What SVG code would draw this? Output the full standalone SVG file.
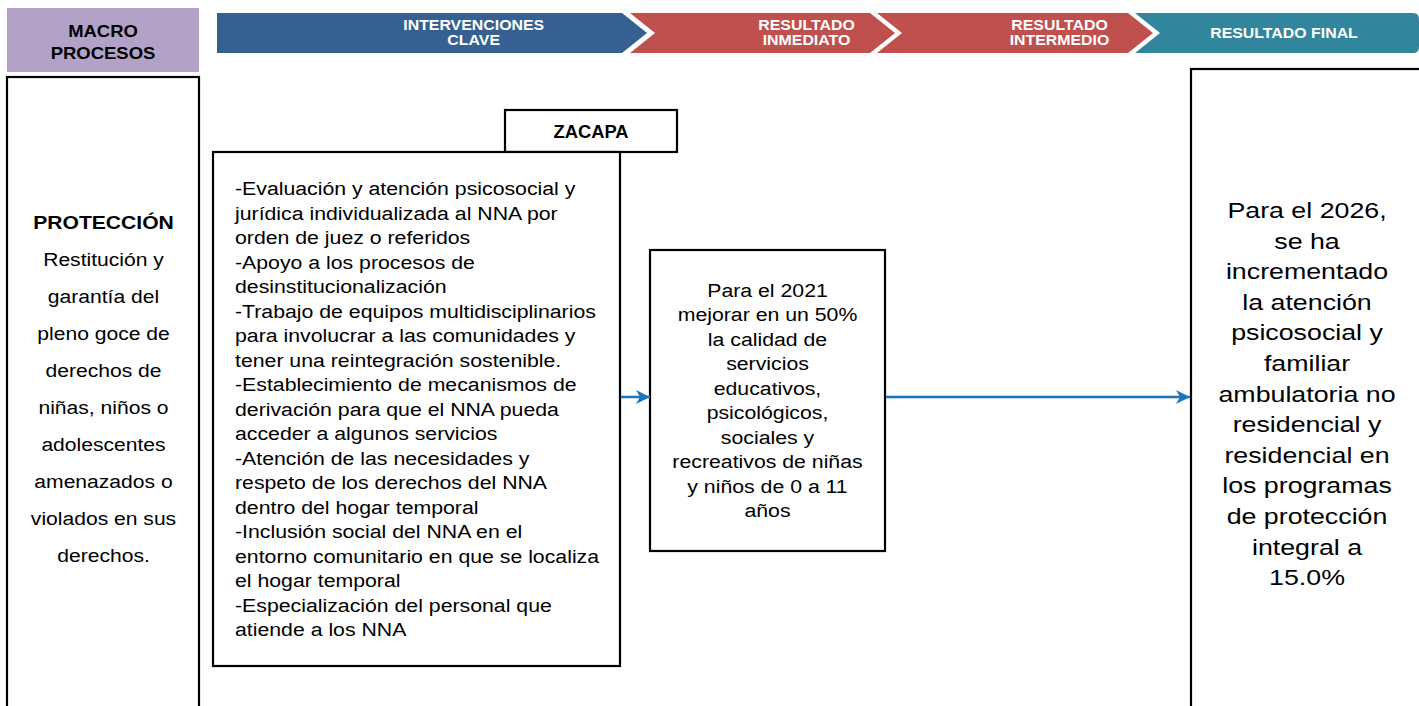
<svg xmlns="http://www.w3.org/2000/svg" width="1419" height="706" viewBox="0 0 1419 706">
<style>
.box{fill:#fff;stroke:#000;stroke-width:2.2}
.hb{font-family:"Liberation Sans",Arial,sans-serif;font-weight:bold;fill:#fff;font-size:15px;text-anchor:middle}
.t{font-family:"Liberation Sans",Arial,sans-serif;fill:#000}
.b{font-weight:bold}
.c{text-anchor:middle}
.conn{stroke:#1B75BC;stroke-width:2.5;fill:none}
</style>
<defs>
<marker id="arr" markerUnits="userSpaceOnUse" markerWidth="16" markerHeight="16" refX="14" refY="7" orient="auto">
<path d="M0,0 L14,7 L0,14 L4,7 Z" fill="#1B75BC"/>
</marker>
</defs>
<rect width="1419" height="706" fill="#fff"/>

<g id="banner">
<polygon points="217,13 622,13 647,33 622,53 217,53" fill="#376092"/>
<polygon points="630,13 870,13 895,33 870,53 630,53 655,33" fill="#C0504D"/>
<polygon points="877,13 1128,13 1153,33 1128,53 877,53 902,33" fill="#C0504D"/>
<path d="M1135,13 L1413,13 Q1419,13 1419,19 L1419,47 Q1419,53 1413,53 L1135,53 L1160,33 Z" fill="#31859C"/>
<g transform="translate(473.7,0) scale(1.06,1)"><text class="hb" x="0" y="30.5">INTERVENCIONES</text><text class="hb" x="0" y="45.5">CLAVE</text></g>
<g transform="translate(806.5,0) scale(1.06,1)"><text class="hb" x="0" y="30.5">RESULTADO</text><text class="hb" x="0" y="45.5">INMEDIATO</text></g>
<g transform="translate(1059.5,0) scale(1.06,1)"><text class="hb" x="0" y="30.5">RESULTADO</text><text class="hb" x="0" y="45.5">INTERMEDIO</text></g>
<g transform="translate(1284,0) scale(1.06,1)"><text class="hb" x="0" y="38">RESULTADO FINAL</text></g>
</g>

<g id="macro-header">
<rect x="7" y="8" width="192" height="64" fill="#B3A2C7"/>
<g transform="translate(103,0) scale(1.12,1)" class="t b c" font-size="16.5">
<text x="0" y="37.5">MACRO</text>
<text x="0" y="59">PROCESOS</text>
</g>
</g>

<g id="proteccion">
<rect class="box" x="7" y="77" width="192" height="640"/>
<g transform="translate(103.5,0) scale(1.11,1)" class="t c" font-size="19">
<text x="0" y="229" class="b">PROTECCIÓN</text>
<text x="0" y="266">Restitución y</text>
<text x="0" y="303">garantía del</text>
<text x="0" y="340">pleno goce de</text>
<text x="0" y="377">derechos de</text>
<text x="0" y="414">niñas, niños o</text>
<text x="0" y="451">adolescentes</text>
<text x="0" y="488">amenazados o</text>
<text x="0" y="525">violados en sus</text>
<text x="0" y="562">derechos.</text>
</g>
</g>

<g id="zacapa">
<rect class="box" x="505" y="110" width="172" height="42"/>
<text x="591" y="138" class="t b c" font-size="17.5" transform="translate(591,0) scale(1.05,1) translate(-591,0)">ZACAPA</text>
</g>

<g id="intervenciones">
<rect class="box" x="213" y="152" width="407" height="514"/>
<g transform="translate(235,0) scale(1.12,1)" class="t" font-size="19">
<text x="0" y="195.5">-Evaluación y atención psicosocial y</text>
<text x="0" y="220">jurídica individualizada al NNA por</text>
<text x="0" y="244.5">orden de juez o referidos</text>
<text x="0" y="269">-Apoyo a los procesos de</text>
<text x="0" y="293.5">desinstitucionalización</text>
<text x="0" y="318">-Trabajo de equipos multidisciplinarios</text>
<text x="0" y="342.5">para involucrar a las comunidades y</text>
<text x="0" y="367">tener una reintegración sostenible.</text>
<text x="0" y="391.5">-Establecimiento de mecanismos de</text>
<text x="0" y="416">derivación para que el NNA pueda</text>
<text x="0" y="440.5">acceder a algunos servicios</text>
<text x="0" y="465">-Atención de las necesidades y</text>
<text x="0" y="489.5">respeto de los derechos del NNA</text>
<text x="0" y="514">dentro del hogar temporal</text>
<text x="0" y="538.5">-Inclusión social del NNA en el</text>
<text x="0" y="563">entorno comunitario en que se localiza</text>
<text x="0" y="587.5">el hogar temporal</text>
<text x="0" y="612">-Especialización del personal que</text>
<text x="0" y="636.5">atiende a los NNA</text>
</g>
</g>

<g id="resultado-inmediato">
<rect class="box" x="650" y="250" width="235" height="301"/>
<g transform="translate(767.5,0) scale(1.12,1)" class="t c" font-size="19">
<text x="0" y="297">Para el 2021</text>
<text x="0" y="321.5">mejorar en un 50%</text>
<text x="0" y="346">la calidad de</text>
<text x="0" y="370.5">servicios</text>
<text x="0" y="395">educativos,</text>
<text x="0" y="419.5">psicológicos,</text>
<text x="0" y="444">sociales y</text>
<text x="0" y="468.5">recreativos de niñas</text>
<text x="0" y="493">y niños de 0 a 11</text>
<text x="0" y="517.5">años</text>
</g>
</g>

<g id="resultado-final">
<rect class="box" x="1191" y="69" width="240" height="650"/>
<g transform="translate(1307,0) scale(1.19,1)" class="t c" font-size="22.5">
<text x="0" y="218">Para el 2026,</text>
<text x="0" y="248.6">se ha</text>
<text x="0" y="279.2">incrementado</text>
<text x="0" y="309.8">la atención</text>
<text x="0" y="340.4">psicosocial y</text>
<text x="0" y="371">familiar</text>
<text x="0" y="401.6">ambulatoria no</text>
<text x="0" y="432.2">residencial y</text>
<text x="0" y="462.8">residencial en</text>
<text x="0" y="493.4">los programas</text>
<text x="0" y="524">de protección</text>
<text x="0" y="554.6">integral a</text>
<text x="0" y="585.2">15.0%</text>
</g>
</g>

<g id="connectors">
<line class="conn" x1="621" y1="397" x2="650" y2="397" marker-end="url(#arr)"/>
<line class="conn" x1="886" y1="397" x2="1190" y2="397" marker-end="url(#arr)"/>
</g>
</svg>
